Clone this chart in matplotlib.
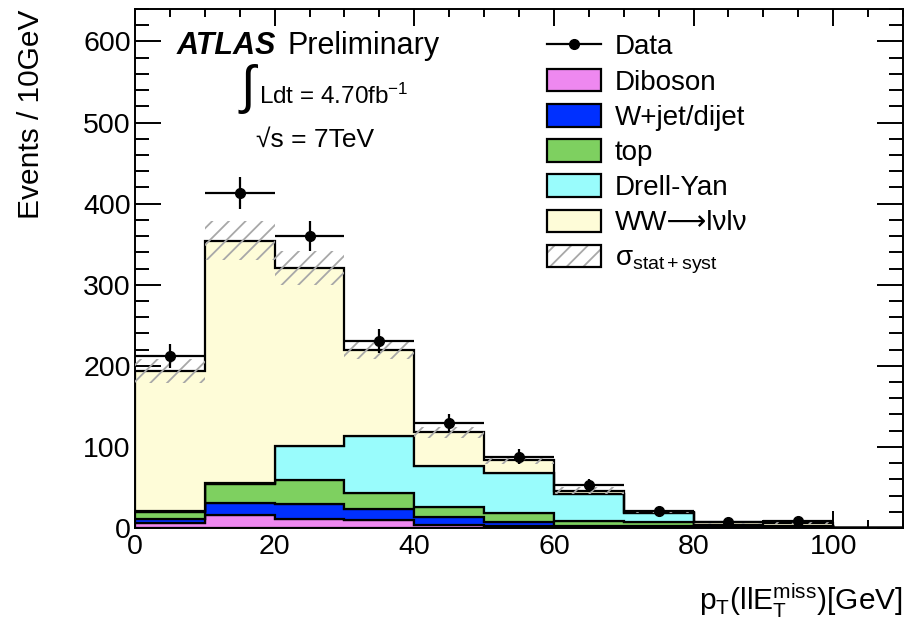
import numpy as np
import matplotlib
matplotlib.use("Agg")
import matplotlib.pyplot as plt
from matplotlib.patches import Patch
from matplotlib.lines import Line2D
from matplotlib.ticker import MultipleLocator

plt.rcParams['font.family'] = ['Liberation Sans', 'DejaVu Sans']
plt.rcParams['mathtext.fontset'] = 'custom'
plt.rcParams['mathtext.rm'] = 'Liberation Sans'
plt.rcParams['mathtext.it'] = 'Liberation Sans:italic'
plt.rcParams['mathtext.bf'] = 'Liberation Sans:bold'
plt.rcParams['hatch.linewidth'] = 1.3

# ---- data ----
bin_edges = [0, 10, 20, 30, 40, 50, 60, 70, 80, 90, 100, 110]
diboson = [5.7, 16, 10.7, 9.8, 3.7, 3.0, 1.0, 0.8, 0.5, 0.5, 0.3]
wjet    = [5.0, 15, 19.3, 14.2, 10.3, 5.0, 1.5, 1.2, 0.5, 0.5, 0.0]
top     = [9.3, 23, 29, 19, 12, 11, 6.5, 6.0, 1.5, 1.0, 0.0]
drellyan = [1.0, 1.0, 42, 70, 50, 49, 33, 10, 1.5, 1.0, 0.0]
ww      = [173, 299, 220, 106, 42, 16, 4, 2, 3, 3, 0.1]
syst_err = [15, 24, 21, 10, 7, 5, 4, 2, 1.5, 1.5, 0]
data_x = [5, 15, 25, 35, 45, 55, 65, 75, 85, 95]
data_y = [212, 413, 360, 231, 129, 88, 53, 21, 8, 9]
data_err = [15, 20, 19, 15, 11, 9.5, 7, 4.5, 3, 3]

samples = [
    ("Diboson", diboson, "#EE88F0"),
    ("W+jet/dijet", wjet, "#0030FF"),
    ("top", top, "#7ED060"),
    ("Drell-Yan", drellyan, "#99FCFC"),
    ("WW\u27f6l\u03bdl\u03bd", ww, "#FEFCD8"),
]
hatch_col = '#A8A8A8'

fig = plt.figure(figsize=(9.21, 6.24), dpi=100)
ax = fig.add_axes([135/921, 1-528/624, (903-135)/921, (528-9)/624])

edges = np.array(bin_edges, dtype=float)
base = np.zeros(len(edges) - 1)
for name, vals, col in samples:
    topv = base + np.array(vals, dtype=float)
    ax.stairs(topv, edges, baseline=base, fill=True, facecolor=col,
              edgecolor='black', linewidth=1.6, zorder=2)
    base = topv
mc_total = base

err = np.array(syst_err, dtype=float)
ax.stairs(mc_total + err, edges, baseline=mc_total - err, fill=True,
          facecolor='none', edgecolor=hatch_col, hatch='//', linewidth=0,
          zorder=3)

ax.errorbar(data_x, data_y, xerr=5, yerr=data_err, fmt='o', color='black',
            markersize=7, elinewidth=1.6, capsize=0, zorder=5)

ax.set_xlim(0, 110)
ax.set_ylim(0, 640)
ax.xaxis.set_major_locator(MultipleLocator(20))
ax.xaxis.set_minor_locator(MultipleLocator(5))
ax.yaxis.set_major_locator(MultipleLocator(100))
ax.yaxis.set_minor_locator(MultipleLocator(20))
ax.tick_params(axis='both', which='both', direction='in', top=True, right=True,
               width=1.4, labelsize=20.5)
ax.tick_params(axis='x', which='major', length=12, pad=4)
ax.tick_params(axis='x', which='minor', length=6)
ax.tick_params(axis='y', which='major', length=19, pad=3)
ax.tick_params(axis='y', which='minor', length=10)
for s in ax.spines.values():
    s.set_linewidth(1.4)

fig.text(903/921, 1-601/624, r"p$_{\mathrm{T}}$(llE$_{\mathrm{T}}^{\mathrm{miss}}$)[GeV]",
         ha='right', va='center', fontsize=21.5)
fig.text(31/921, 1-10/624, "Events / 10GeV", rotation=90, ha='center', va='top',
         fontsize=21.5)

ax.text(0.0547, 0.928, "ATLAS", transform=ax.transAxes, fontsize=22,
        fontweight='bold', fontstyle='italic', va='center', ha='left')
ax.text(0.198, 0.928, "Preliminary", transform=ax.transAxes, fontsize=22,
        va='center', ha='left')
ax.text(0.137, 0.846, "\u222b", transform=ax.transAxes, fontsize=38,
        va='center', ha='left')
ax.text(0.161, 0.831, r"Ldt = 4.70fb$^{\mathregular{-1}}$", transform=ax.transAxes,
        fontsize=17.5, va='center', ha='left')
ax.text(0.235, 0.748, "\u221as = 7TeV", transform=ax.transAxes, fontsize=19,
        va='center', ha='center')

handles = [Line2D([], [], color='black', marker='o', markersize=7, linewidth=1.6)]
labels = ["Data"]
for name, vals, col in samples:
    handles.append(Patch(facecolor=col, edgecolor='black', linewidth=1.6))
    labels.append(name)
handles.append((Patch(facecolor='white', edgecolor=hatch_col, hatch='//', linewidth=0),
                Patch(facecolor='none', edgecolor='black', linewidth=1.6)))
labels.append("\u03c3$_{\\mathregular{stat+syst}}$")

leg = ax.legend(handles, labels, loc='upper left', bbox_to_anchor=(0.522, 0.974),
                frameon=False, fontsize=20, handlelength=1.95, handleheight=0.87,
                labelspacing=0.3, handletextpad=0.5, borderaxespad=0)

fig.savefig("out.png", dpi=100)
